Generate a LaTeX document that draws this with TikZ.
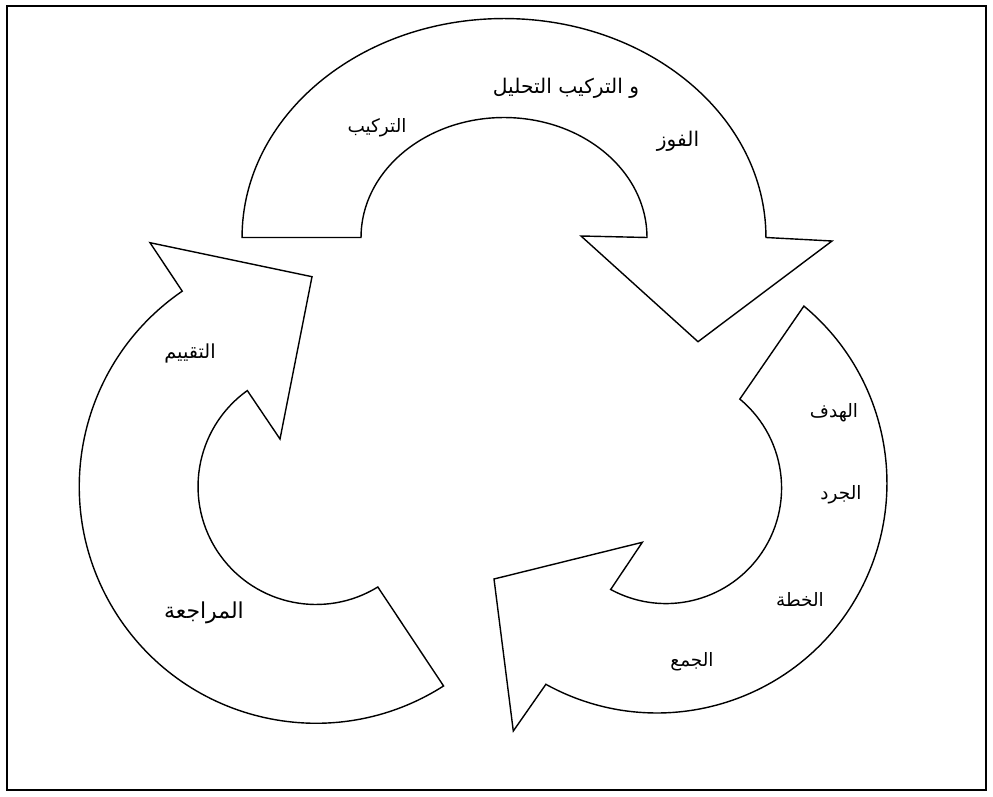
\documentclass[tikz,border=0pt]{standalone}
\usepackage{fontspec}
\usetikzlibrary{calc}
\TeXXeTstate=1
\newfontfamily\arabicfont[Script=Arabic]{DejaVu Sans}
\begin{document}
\begin{tikzpicture}[x=0.02cm,y=0.02cm,
  arrowshape/.style={draw=black, line width=0.8pt, line join=miter, fill=white},
  frame/.style={draw=black, line width=0.6pt},
  lbl/.style={font=\arabicfont\fontsize{10.5}{12}\selectfont, inner sep=0pt},
  lblwide/.style={font=\arabicfont\fontsize{11.5}{13}\selectfont, inner sep=0pt},
  lblsans/.style={font=\arabicfont\fontsize{11}{13}\selectfont, inner sep=0pt},
  lblsansbig/.style={font=\arabicfont\fontsize{12.5}{14}\selectfont, inner sep=0pt}]
\useasboundingbox (0,0) rectangle (993,796);
\draw[frame] (7,6) rectangle (986,790);
% centres
\coordinate (T) at (504,558.5);
\coordinate (L) at (316,309.5);
\coordinate (Ro) at (657,313);
\coordinate (Ri) at (666,308);
% top arrow
\draw[arrowshape] ($(T)+(180:5.24cm and 4.38cm)$)
  arc[start angle=180, end angle=0, x radius=5.24cm, y radius=4.38cm]
  -- (832,555) -- (698,454.3) -- (581,560)
  -- ($(T)+(0:2.86cm and 2.4cm)$)
  arc[start angle=0, end angle=180, x radius=2.86cm, y radius=2.4cm]
  -- cycle;
% left arrow
\draw[arrowshape] (312,519.3) -- (280,357)
  -- ($(L)+(125.6:2.36cm)$)
  arc[start angle=125.6, end angle=301.6, radius=2.36cm]
  -- ($(L)+(302.6:4.736cm)$)
  arc[start angle=302.6, end angle=124.4, radius=4.736cm]
  -- (150,553.3) -- cycle;
% right arrow
\draw[arrowshape] ($(Ro)+(50.3:4.6cm)$)
  -- ($(Ri)+(50.3:2.312cm)$)
  arc[start angle=50.3, end angle=-118.6, radius=2.312cm]
  -- (642.3,253.7) -- (494,217) -- (513.3,65)
  -- ($(Ro)+(241.1:4.6cm)$)
  arc[start angle=241.1, end angle=410.3, radius=4.6cm]
  -- cycle;
% labels
\node[lblwide] (t1) at (566,708) {\beginR و التركيب التحليل\endR};
\node[lbl] (t2) at (377,668) {\beginR التركيب\endR};
\node[lblwide] (t3) at (678,655) {\beginR الفوز\endR};
\node[lblsans] (t4) at (190,443) {\beginR التقييم\endR};
\node[lblsansbig] (t5) at (204,183) {\beginR المراجعة\endR};
\node[lbl] (t6) at (834,383) {\beginR الهدف\endR};
\node[lbl] (t7) at (841,301) {\beginR الجرد\endR};
\node[lbl] (t8) at (800,197) {\beginR الخطة\endR};
\node[lbl] (t9) at (692,134) {\beginR الجمع\endR};
\end{tikzpicture}
\end{document}
